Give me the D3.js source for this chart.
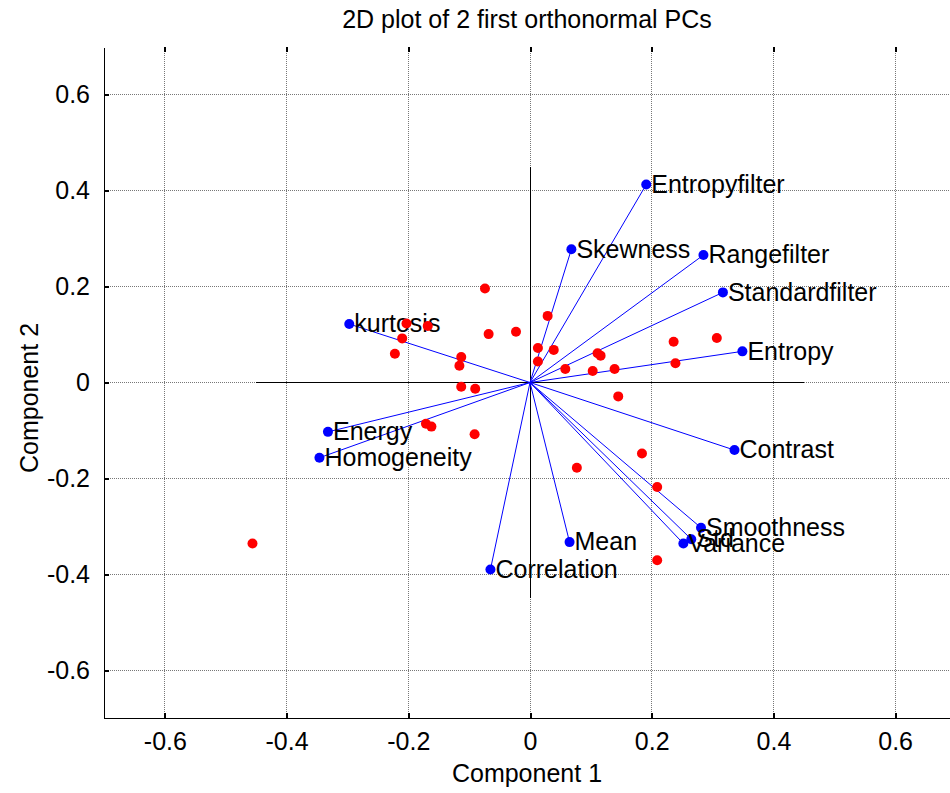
<!DOCTYPE html>
<html>
<head>
<meta charset="utf-8">
<script src="https://cdn.jsdelivr.net/npm/d3@7"></script>
<style>
  html, body { margin: 0; padding: 0; background: #fff; overflow: hidden; }
  svg { display: block; }
  text { font-family: "Liberation Sans", Arial, sans-serif; fill: #000; }
</style>
</head>
<body>
<script>
// ---- data ----
const titleText = "2D plot of 2 first orthonormal PCs";
const xLabel = "Component 1";
const yLabel = "Component 2";
const xTicks = [-0.6, -0.4, -0.2, 0, 0.2, 0.4, 0.6];
const yTicks = [-0.6, -0.4, -0.2, 0, 0.2, 0.4, 0.6];
const xTickLabels = ["-0.6", "-0.4", "-0.2", "0", "0.2", "0.4", "0.6"];
const yTickLabels = ["-0.6", "-0.4", "-0.2", "0", "0.2", "0.4", "0.6"];

const varNames = ["Entropyfilter", "Skewness", "Rangefilter", "Standardfilter", "Entropy", "Contrast",
                  "Smoothness", "Std", "Variance", "Mean", "Correlation", "Homogeneity", "Energy", "kurtosis"];
const varX = [0.191, 0.068, 0.285, 0.317, 0.349, 0.336, 0.281, 0.265, 0.252, 0.065, -0.065, -0.346, -0.332, -0.297];
const varY = [0.413, 0.278, 0.266, 0.188, 0.065, -0.141, -0.303, -0.327, -0.336, -0.333, -0.390, -0.157, -0.103, 0.122];

const obsX = [-0.456, -0.074, -0.203, -0.168, -0.210, -0.222, -0.068, -0.023, -0.113, -0.116, 0.029, 0.013,
              0.039, 0.013, 0.058, 0.111, 0.116, 0.103, 0.139, 0.236, 0.307, 0.239, 0.145, -0.113, -0.090,
              -0.171, -0.162, -0.091, 0.077, 0.184, 0.209, 0.209];
const obsY = [-0.336, 0.196, 0.123, 0.118, 0.092, 0.060, 0.101, 0.106, 0.053, 0.035, 0.139, 0.072,
              0.068, 0.044, 0.028, 0.061, 0.056, 0.024, 0.028, 0.085, 0.093, 0.040, -0.029, -0.009, -0.013,
              -0.086, -0.092, -0.108, -0.178, -0.148, -0.218, -0.371];

const crossExtent = 0.45;

// ---- chart ----
const W = 950, H = 793;
const svg = d3.select("body").append("svg").attr("width", W).attr("height", H);

const x = d3.scaleLinear().domain([-0.7, 0.7]).range([104, 956]);
const y = d3.scaleLinear().domain([-0.7, 0.7]).range([718, 47]);

const fs = 25;

// grid
const grid = svg.append("g");
grid.selectAll(".gx").data(xTicks).join("line")
  .attr("x1", d => x(d)).attr("x2", d => x(d))
  .attr("y1", y(0.7)).attr("y2", y(-0.7))
  .attr("stroke", "#777").attr("stroke-width", 1).attr("stroke-dasharray", "1,1")
  .attr("shape-rendering", "crispEdges");
grid.selectAll(".gy").data(yTicks).join("line")
  .attr("y1", d => y(d)).attr("y2", d => y(d))
  .attr("x1", x(-0.7)).attr("x2", x(0.7))
  .attr("stroke", "#777").attr("stroke-width", 1).attr("stroke-dasharray", "1,1")
  .attr("shape-rendering", "crispEdges");

// axes (left & bottom lines, inward ticks)
const xAxisB = d3.axisBottom(x).tickValues(xTicks).tickSizeInner(-5).tickSizeOuter(0)
  .tickPadding(14).tickFormat((d, i) => xTickLabels[i]);
const gxb = svg.append("g").attr("transform", `translate(0,${y(-0.7)})`).call(xAxisB);
const xAxisT = d3.axisTop(x).tickValues(xTicks).tickSizeInner(-5).tickSizeOuter(0).tickFormat("");
const gxt = svg.append("g").attr("transform", `translate(0,${y(0.7)})`).call(xAxisT);
gxt.select(".domain").remove();
const yAxisL = d3.axisLeft(y).tickValues(yTicks).tickSizeInner(-5).tickSizeOuter(0)
  .tickPadding(14).tickFormat((d, i) => yTickLabels[i]);
const gyl = svg.append("g").attr("transform", `translate(${x(-0.7)},0)`).call(yAxisL);

[gxb, gxt, gyl].forEach(g => {
  g.selectAll("path, line").attr("stroke", "#000").attr("stroke-width", 1).attr("shape-rendering", "crispEdges");
  g.selectAll("text").style("font-size", fs + "px").style("font-family", "'Liberation Sans', Arial, sans-serif").attr("fill", "#000");
});
gxb.selectAll(".tick line").attr("stroke-width", 2);
gxt.selectAll(".tick line").attr("stroke-width", 2);
gyl.selectAll(".tick line").attr("stroke-width", 2);

// crosshair
svg.append("line").attr("x1", x(-crossExtent)).attr("x2", x(crossExtent)).attr("y1", y(0)).attr("y2", y(0))
  .attr("stroke", "#000").attr("stroke-width", 1).attr("shape-rendering", "crispEdges");
svg.append("line").attr("x1", x(0)).attr("x2", x(0)).attr("y1", y(crossExtent)).attr("y2", y(-crossExtent))
  .attr("stroke", "#000").attr("stroke-width", 1).attr("shape-rendering", "crispEdges");

// vectors
const vars = varNames.map((n, i) => ({ n, vx: varX[i], vy: varY[i] }));
svg.append("g").selectAll("line").data(vars).join("line")
  .attr("x1", x(0)).attr("y1", y(0))
  .attr("x2", d => x(d.vx)).attr("y2", d => y(d.vy))
  .attr("stroke", "#0000ff").attr("stroke-width", 1);
svg.append("g").selectAll("circle").data(vars).join("circle")
  .attr("cx", d => x(d.vx)).attr("cy", d => y(d.vy)).attr("r", 5).attr("fill", "#0000ff");
svg.append("g").selectAll("text").data(vars).join("text")
  .attr("x", d => x(d.vx) + 5).attr("y", d => y(d.vy))
  .attr("dy", "0.33em")
  .style("font-size", fs + "px")
  .text(d => d.n);

// observations
const obs = obsX.map((v, i) => ({ ox: v, oy: obsY[i] }));
svg.append("g").selectAll("circle").data(obs).join("circle")
  .attr("cx", d => x(d.ox)).attr("cy", d => y(d.oy)).attr("r", 5).attr("fill", "#ff0000");

// title and labels
svg.append("text").attr("x", 527).attr("y", 28).attr("text-anchor", "middle")
  .style("font-size", fs + "px").text(titleText);
svg.append("text").attr("x", 527).attr("y", 782).attr("text-anchor", "middle")
  .style("font-size", fs + "px").text(xLabel);
svg.append("text").attr("transform", `translate(38,${398}) rotate(-90)`).attr("text-anchor", "middle")
  .style("font-size", fs + "px").text(yLabel);
</script>
</body>
</html>
